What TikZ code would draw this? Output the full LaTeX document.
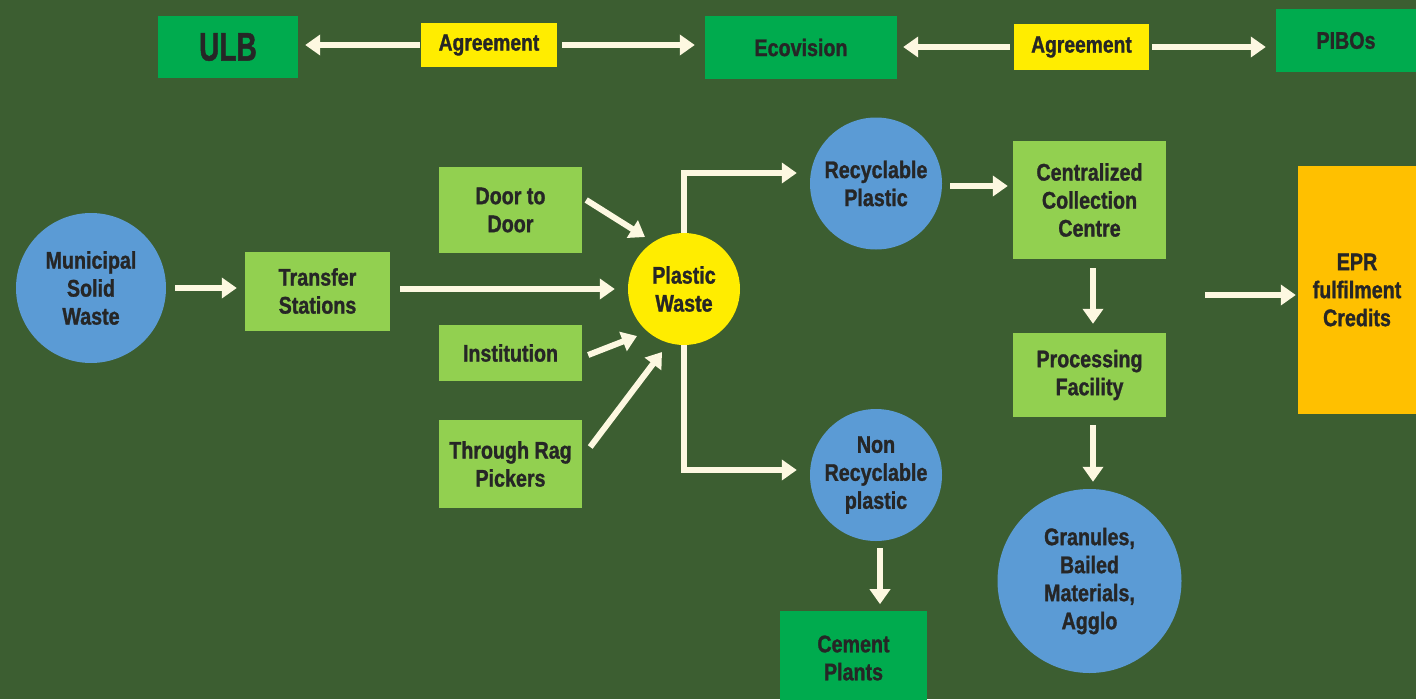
\documentclass[tikz,border=0pt]{standalone}
\usepackage{fontspec}
\setmainfont{Liberation Sans}
\newfontfamily\condbold{Liberation Sans Bold}[FakeStretch=0.82, FakeBold=1.2]
\newfontfamily\ulbfont{Liberation Sans Bold}[FakeStretch=0.70, FakeBold=1.2]
\usetikzlibrary{arrows.meta,calc}
\definecolor{bg}{RGB}{60,94,49}
\definecolor{dkgreen}{RGB}{0,171,78}
\definecolor{ltgreen}{RGB}{146,208,80}
\definecolor{ylw}{RGB}{255,237,0}
\definecolor{blu}{RGB}{91,155,213}
\definecolor{org}{RGB}{255,192,0}
\definecolor{arrcol}{RGB}{253,248,225}
\definecolor{txt}{RGB}{38,38,38}
\tikzset{
  base/.style={inner sep=0pt, align=center, text=txt, font=\condbold\fontsize{24}{28}\selectfont},
  dbox/.style={base, rectangle, fill=dkgreen},
  lbox/.style={base, rectangle, fill=ltgreen},
  ybox/.style={base, rectangle, fill=ylw, font=\condbold\fontsize{23.5}{27}\selectfont},
  bcirc/.style={base, circle, fill=blu},
  arr/.style={draw=arrcol, line width=6pt, -{Triangle[width=20pt,length=15pt]}},
}
\begin{document}
\begin{tikzpicture}[x=1pt,y=-1pt]
\useasboundingbox (0,0) rectangle (1416,699);
\fill[bg] (0,0) rectangle (1416,699);
% top row
\node[dbox, minimum width=140pt, minimum height=62pt, font=\ulbfont\fontsize{40}{44}\selectfont] (ulb) at (228,47) {ULB};
\node[ybox, minimum width=136pt, minimum height=44pt] (agr1) at (489,45) {Agreement};
\node[dbox, minimum width=192pt, minimum height=63pt] (eco) at (801,47.5) {Ecovision};
\node[ybox, minimum width=135pt, minimum height=46pt] (agr2) at (1081.5,47) {Agreement};
\node[dbox, minimum width=140pt, minimum height=63pt] (pibo) at (1346,40.5) {PIBOs};
\draw[arr, shorten <=1pt, shorten >=7pt] (agr1.west) -- (ulb.east |- agr1.west);
\draw[arr, shorten <=5pt, shorten >=10pt] (agr1.east) -- (eco.west |- agr1.east);
\draw[arr, shorten <=4pt, shorten >=6pt] (agr2.west) -- (eco.east |- agr2.west);
\draw[arr, shorten <=3pt, shorten >=10pt] (agr2.east) -- (pibo.west |- agr2.east);
% main flow
\node[bcirc, minimum size=150pt] (msw) at (91,288) {Municipal\\Solid\\Waste};
\node[lbox, minimum width=145pt, minimum height=79pt] (ts) at (317.5,291) {Transfer\\Stations};
\node[lbox, minimum width=143pt, minimum height=86pt] (d2d) at (510.5,210) {Door to\\Door};
\node[lbox, minimum width=143pt, minimum height=56pt] (inst) at (510.5,353) {Institution};
\node[lbox, minimum width=143pt, minimum height=88pt] (rag) at (510.5,464) {Through Rag\\Pickers};
\node[base, circle, fill=ylw, minimum size=112pt] (pw) at (684,289) {Plastic\\Waste};
\node[bcirc, minimum size=132pt] (rec) at (876,183.5) {Recyclable\\Plastic};
\node[bcirc, minimum size=132pt] (nonrec) at (876,475) {Non\\Recyclable\\plastic};
\node[lbox, minimum width=153pt, minimum height=118pt] (ccc) at (1089.5,200) {Centralized\\Collection\\Centre};
\node[lbox, minimum width=153pt, minimum height=84pt] (pf) at (1089.5,375) {Processing\\Facility};
\node[bcirc, minimum size=184pt] (gran) at (1089.5,581) {Granules,\\Bailed\\Materials,\\Agglo};
\node[base, rectangle, fill=org, minimum width=118pt, minimum height=248pt] (epr) at (1357,290) {EPR\\fulfilment\\Credits};
\node[dbox, minimum width=147pt, minimum height=94pt] (cement) at (853.5,658) {Cement\\Plants};
\coordinate (eprsrc) at (1205,295);
% connectors
\draw[arr, shorten <=9pt, shorten >=8pt] (msw.east) -- (msw.east -| ts.west);
\draw[arr, shorten <=10pt, shorten >=13pt] (ts.east |- pw.west) -- (pw.west);
\draw[arr] ($(d2d.east)+(4,-10)$) -- ($(pw.center)+(-39,-52)$);
\draw[arr] ($(inst.east)+(6,2)$) -- ($(pw.center)+(-47,47)$);
\draw[arr] ($(rag.east)+(8,-17)$) -- ($(pw.center)+(-22,63)$);
\draw[arr] (pw.north) |- ($(rec.west)+(-13,-10.5)$);
\draw[arr] (pw.south) |- ($(nonrec.west)+(-13,-5)$);
\draw[arr, shorten <=8pt, shorten >=5pt] ($(rec.east)+(0,2.5)$) -- ($(ccc.west)+(0,-14)$);
\draw[arr, shorten <=7pt, shorten >=7pt] ($(nonrec.south)+(4,0)$) -- ($(nonrec.south)+(4,70)$);
\draw[arr, shorten <=9pt, shorten >=9pt] ($(ccc.south)+(3.5,0)$) -- ($(pf.north)+(3.5,0)$);
\draw[arr, shorten <=8pt, shorten >=7pt] ($(pf.south)+(3.5,0)$) -- ($(gran.north)+(3.5,0)$);
\draw[arr, shorten >=2pt] (eprsrc) -- (eprsrc -| epr.west);
\end{tikzpicture}
\end{document}
